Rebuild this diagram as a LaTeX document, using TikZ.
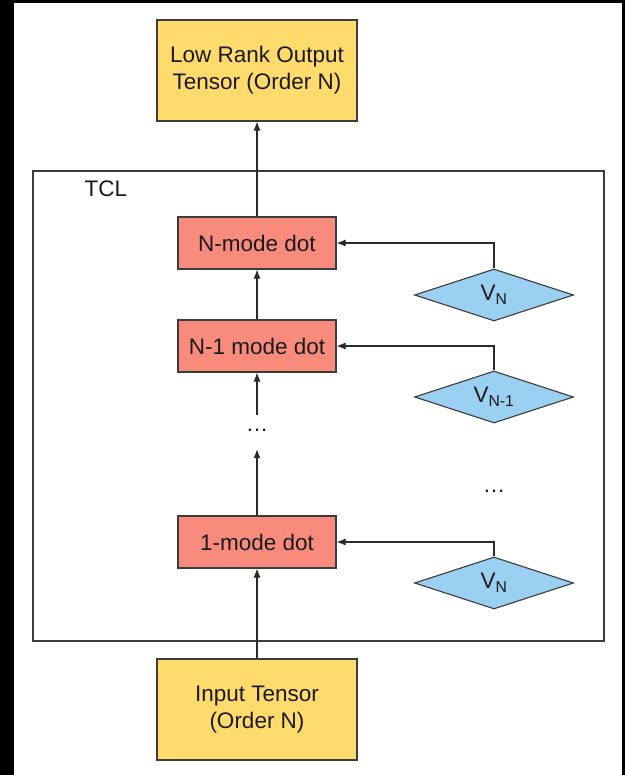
\documentclass[tikz,border=0pt]{standalone}
\usepackage{fontspec}
\setmainfont{Liberation Sans}
\usetikzlibrary{shapes.geometric,arrows.meta}
\definecolor{tyellow}{HTML}{FFDA6C}
\definecolor{tred}{HTML}{F98B7D}
\definecolor{tblue}{HTML}{9AD1F2}
\definecolor{tline}{HTML}{2A2A2A}
\definecolor{tedge}{HTML}{3C3C3C}
\definecolor{ttext}{HTML}{1A1A1A}
\begin{document}
\begin{tikzpicture}[x=1pt,y=-1pt,
  every node/.style={text=ttext,font=\fontsize{22.5}{27}\selectfont},
  tensorbox/.style={draw=tedge,line width=1.1pt,fill=tyellow,minimum width=200pt,minimum height=101pt,align=center,inner sep=0pt},
  dotbox/.style={draw=tedge,line width=1.1pt,fill=tred,minimum width=158pt,minimum height=52pt,inner sep=0pt},
  factor/.style={diamond,draw=tedge,line width=1.1pt,fill=tblue,minimum width=159pt,minimum height=52pt,inner sep=0pt,shape aspect=3},
  conn/.style={draw=tline,line width=1.1pt,-{Latex[length=9pt,width=7pt]}}
]
\useasboundingbox (0,0) rectangle (625,775);
\fill[black] (0,0) rectangle (625,775);
\fill[white] (14,3) rectangle (622,775);
% TCL frame
\draw[draw=tedge,line width=1.3pt] (33,171) rectangle (604,641);
\node[anchor=center] (tcl) at (106,189) {TCL};
% main column
\node[tensorbox] (out) at (257,70.5) {Low Rank Output\\Tensor (Order N)};
\node[dotbox] (mN) at (257,243) {N-mode dot};
\node[dotbox] (mN1) at (257,346) {N-1 mode dot};
\node[inner sep=0pt,minimum height=34pt,minimum width=30pt] (dots) at (257,432) {\raisebox{4pt}{\dots}};
\node[dotbox] (m1) at (257,542) {1-mode dot};
\node[tensorbox] (in) at (257,709.5) {Input Tensor\\(Order N)};
% factors
\node[factor] (dN) at (494,295) {V\textsubscript{N}};
\node[factor] (dN1) at (494,397) {V\textsubscript{N-1}};
\node[inner sep=0pt] (rdots) at (494,493) {\raisebox{4pt}{\dots}};
\node[factor] (d1) at (494,583) {V\textsubscript{N}};
% connectors
\draw[conn] (in.north) -- (m1.south);
\draw[conn] (m1.north) -- (dots.south);
\draw[conn] (dots.north) -- (mN1.south);
\draw[conn] (mN1.north) -- (mN.south);
\draw[conn] (mN.north) -- (out.south);
\draw[conn] (dN.north) |- (mN.east);
\draw[conn] (dN1.north) |- (mN1.east);
\draw[conn] (d1.north) |- (m1.east);
\end{tikzpicture}
\end{document}
